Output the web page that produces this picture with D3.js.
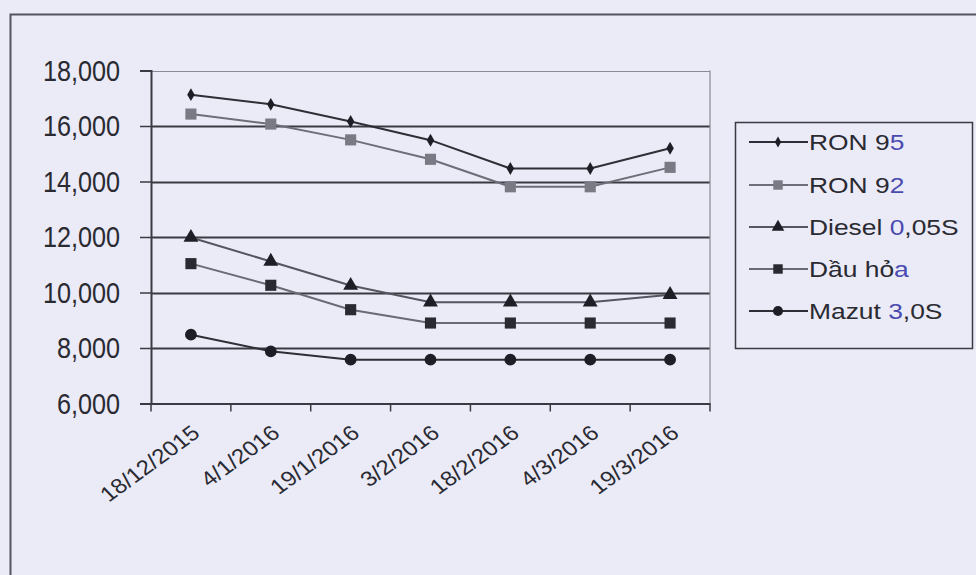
<!DOCTYPE html>
<html><head><meta charset="utf-8">
<script src="https://cdn.jsdelivr.net/npm/d3@7"></script>
<style>
html,body{margin:0;padding:0;background:#ebebf7;}
svg{display:block;font-family:"Liberation Sans",Arial,sans-serif;}
</style></head>
<body>
<svg id="chart" width="976" height="575"></svg>
<script>
const categories = ["18/12/2015","4/1/2016","19/1/2016","3/2/2016","18/2/2016","4/3/2016","19/3/2016"];
const ron95   = [17130, 16780, 16160, 15490, 14470, 14470, 15200];
const ron92   = [16430, 16070, 15500, 14800, 13810, 13810, 14510];
const diesel  = [11980, 11120, 10250, 9650, 9650, 9650, 9920];
const dauHoa  = [11040, 10260, 9380, 8900, 8900, 8900, 8900];
const mazut   = [8480, 7880, 7580, 7580, 7580, 7580, 7580];
const yTicks  = [6000, 8000, 10000, 12000, 14000, 16000, 18000];
const seriesNames = [["RON 9","5"],["RON 9","2"],["Diesel ","0",",05S"],["Dầu hỏ","a"],["Mazut ","3",",0S"]];

const series = [
  {name: seriesNames[0], values: ron95,  line:"#2e2e36", marker:"diamond", fill:"#1e1e26", size:5.5},
  {name: seriesNames[1], values: ron92,  line:"#6e6e78", marker:"square",  fill:"#7a7a84", size:7.5},
  {name: seriesNames[2], values: diesel, line:"#55555f", marker:"triangle",fill:"#1e1e26", size:8},
  {name: seriesNames[3], values: dauHoa, line:"#6a6a74", marker:"square",  fill:"#2a2a32", size:7.5},
  {name: seriesNames[4], values: mazut,  line:"#2e2e36", marker:"circle",  fill:"#1e1e26", size:6.5}
];

const svg = d3.select("#chart");
svg.append("rect").attr("x",10.5).attr("y",14.5).attr("width",1000).attr("height",600)
  .attr("fill","none").attr("stroke","#555560").attr("stroke-width",2);

const L=151, R=710, T=70.5, B=403.5;
const x = d3.scaleBand().domain(categories).range([L,R]);
const y = d3.scaleLinear().domain([6000,18000]).range([B,T]);

const g = svg.append("g");
g.selectAll("line.grid").data(yTicks.slice(1)).join("line")
  .attr("x1",L).attr("x2",R).attr("y1",d=>Math.round(y(d))+0.5).attr("y2",d=>Math.round(y(d))+0.5)
  .attr("stroke",d=>d===18000?"#8a8a94":"#3a3a42").attr("stroke-width",d=>d===18000?1.2:2);
g.append("line").attr("x1",R).attr("x2",R).attr("y1",T).attr("y2",B).attr("stroke","#8a8a94").attr("stroke-width",1.2);

// y axis
const yAxis = g.append("g").attr("transform",`translate(${L},0)`)
  .call(d3.axisLeft(y).tickValues(yTicks).tickSize(11).tickFormat(""));
yAxis.select(".domain").attr("stroke","#3a3a42").attr("stroke-width",2);
yAxis.selectAll(".tick line").attr("stroke","#3a3a42").attr("stroke-width",1.5);
const fmt = d3.format(",");
g.selectAll("text.yl").data(yTicks).join("text")
  .attr("transform",d=>`translate(120,${y(d)}) scale(0.97,1.1)`)
  .attr("text-anchor","end").attr("dy","0.36em").attr("font-size",26).attr("fill","#2a2a32")
  .text(d=>fmt(d));

// x axis
const xAxis = g.append("g").attr("transform",`translate(0,${B})`)
  .call(d3.axisBottom(x).tickSize(0).tickFormat(""));
xAxis.select(".domain").attr("stroke","#3a3a42").attr("stroke-width",2);
xAxis.selectAll(".tick").remove();
const edges = categories.map(c=>x(c)).concat([R]);
g.selectAll("line.xt").data(edges).join("line")
  .attr("x1",d=>d).attr("x2",d=>d).attr("y1",B).attr("y2",B+8)
  .attr("stroke","#3a3a42").attr("stroke-width",1.5);
g.selectAll("text.xl").data(categories).join("text")
  .attr("transform",d=>`translate(${x(d)+x.bandwidth()/2+5},${B+26}) scale(1.15,1) rotate(-40)`)
  .attr("text-anchor","end").attr("dy","0.35em").attr("font-size",21).attr("fill","#2a2a32")
  .text(d=>d);

function drawMarker(sel, type, size, fill){
  const sym = {diamond:d3.symbolDiamond, square:d3.symbolSquare, triangle:d3.symbolTriangle, circle:d3.symbolCircle}[type];
  const area = {diamond:size*size*1.6, square:size*size*2.2, triangle:size*size*1.5, circle:size*size*2.6}[type];
  sel.append("path").attr("d", d3.symbol().type(sym).size(area)()).attr("fill",fill);
}

const line = d3.line().x((d,i)=>x(categories[i])+x.bandwidth()/2).y(d=>y(d));
series.forEach(s=>{
  g.append("path").datum(s.values).attr("d",line).attr("fill","none")
    .attr("stroke",s.line).attr("stroke-width",2);
  s.values.forEach((v,i)=>{
    const m = g.append("g").attr("transform",`translate(${x(categories[i])+x.bandwidth()/2},${y(v)})`);
    drawMarker(m, s.marker, s.size, s.fill);
  });
});

// legend
const lg = svg.append("g");
lg.append("rect").attr("x",735.5).attr("y",122.5).attr("width",237).attr("height",226)
  .attr("fill","none").attr("stroke","#3a3a42").attr("stroke-width",1.5);
const rowY = [142,185,227,269,311];
series.forEach((s,i)=>{
  const yy = rowY[i];
  lg.append("line").attr("x1",749).attr("x2",808).attr("y1",yy).attr("y2",yy)
    .attr("stroke",s.line).attr("stroke-width",2);
  const m = lg.append("g").attr("transform",`translate(778,${yy})`);
  drawMarker(m, s.marker, s.size*0.85, s.fill);
  const t = lg.append("text").attr("transform",`translate(809,${yy}) scale(1.2,1)`).attr("dy","0.36em")
    .attr("font-size",22).attr("fill","#2a2a32");
  s.name.forEach((part,j)=>{
    t.append("tspan").text(part).attr("fill", j===1 ? "#4a4ab0" : "#2a2a32");
  });
});
</script>
</body></html>
